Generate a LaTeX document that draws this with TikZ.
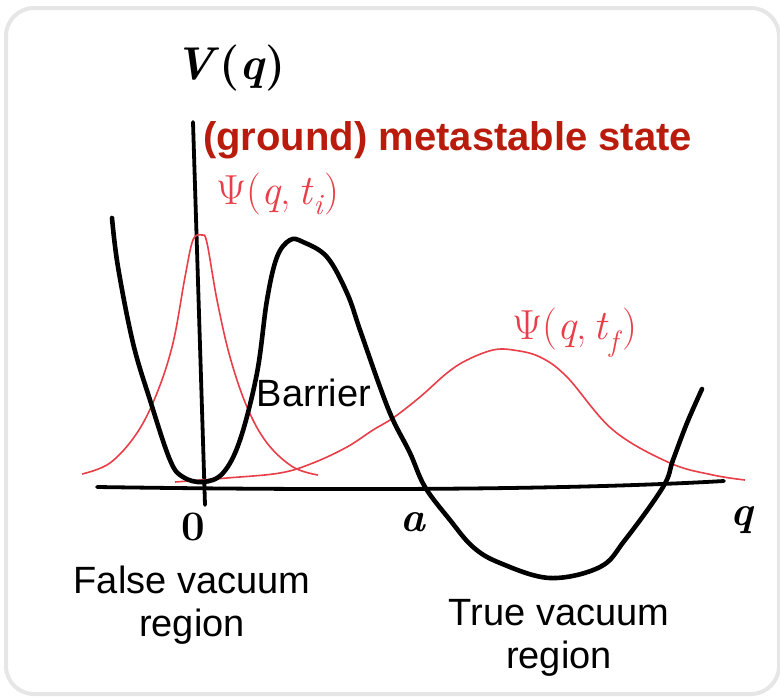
\documentclass[tikz,border=0pt]{standalone}
\usepackage{fontspec}
\setmainfont{Liberation Sans}
\newfontfamily\lmrfont{Latin Modern Roman}
\definecolor{framegray}{RGB}{230,230,230}
\definecolor{titlered}{RGB}{185,28,12}
\definecolor{wavered}{RGB}{232,62,72}
\begin{document}
\begin{tikzpicture}[x=1pt,y=-1pt,
  potential/.style={line width=4.6pt,line cap=round,line join=round},
  axisline/.style={line width=3.8pt,line cap=round},
  wave/.style={line width=1.6pt,wavered},
  hand/.style={font=\fontsize{42}{46}\selectfont\lmrfont,inner sep=0pt},
  label/.style={font=\fontsize{38}{43}\selectfont,inner sep=0pt,align=center}]
\useasboundingbox (0,0) rectangle (780,697);
% frame
\draw[framegray,line width=4pt,rounded corners=28pt] (6,8) rectangle (779,694);
% axes
\coordinate (ytop) at (193,122);
\coordinate (ybot) at (205,505);
\coordinate (xleft) at (97,487);
\coordinate (xright) at (724,481);
\draw[axisline] (ytop) -- (ybot);
\draw[axisline] (xleft) .. controls (300,490) and (550,491) .. (xright);
% wave functions
\draw[wave] plot[smooth,tension=0.6] coordinates {(82,474) (110,463) (137,433) (157,393) (173,343) (185,277) (193,240) (202,235) (207,243) (217,300) (230,357) (247,407) (267,443) (293,467) (318,475)};
\draw[wave] plot[smooth,tension=0.6] coordinates {(175,482) (227,478) (280,473) (313,463) (347,447) (373,430) (393,418) (420,397) (447,373) (467,360) (493,350) (513,350) (540,357) (567,377) (613,430) (670,463) (713,475) (745,480)};
% potential
\draw[potential] plot[smooth,tension=0.6] coordinates {(112,218) (118,267) (133,343) (150,400) (170,460) (183,477) (203,482) (223,473) (240,440) (257,373) (267,300) (277,257) (290,240) (303,242) (327,257) (347,293) (360,330) (380,387) (393,420) (410,453) (425,487) (450,520) (473,547) (500,563) (550,578) (600,567) (625,540) (663,487) (673,460) (687,423) (702,389)};
% labels
\node[hand,font=\fontsize{46}{50}\selectfont\lmrfont\bfseries] (Vq) at (230,68) {\textit{V}(\textit{q})};
\node[font=\fontsize{40}{44}\selectfont\bfseries,text=titlered,anchor=west,inner sep=0pt] (title) at (203,140) {(ground) metastable state};
\node[hand,text=wavered] (psii) at (278,194) {Ψ(\textit{q},\,\textit{t}\textsubscript{\textit{i}})};
\node[hand,text=wavered] (psif) at (575,333) {Ψ(\textit{q},\,\textit{t}\textsubscript{\textit{f}})};
\node[label] (barrier) at (314,393) {Barrier};
\node[hand,font=\fontsize{42}{46}\selectfont\lmrfont\bfseries] (zero) at (193,527) {0};
\node[hand,font=\fontsize{42}{46}\selectfont\lmrfont\bfseries] (alab) at (413,522) {\textit{a}};
\node[hand,font=\fontsize{42}{46}\selectfont\lmrfont\bfseries] (qlab) at (743,520) {\textit{q}};
\node[label,anchor=north] (false) at (192,566) {False vacuum\\region};
\node[label,anchor=north] (true) at (559,599) {True vacuum\\region};
\end{tikzpicture}
\end{document}
